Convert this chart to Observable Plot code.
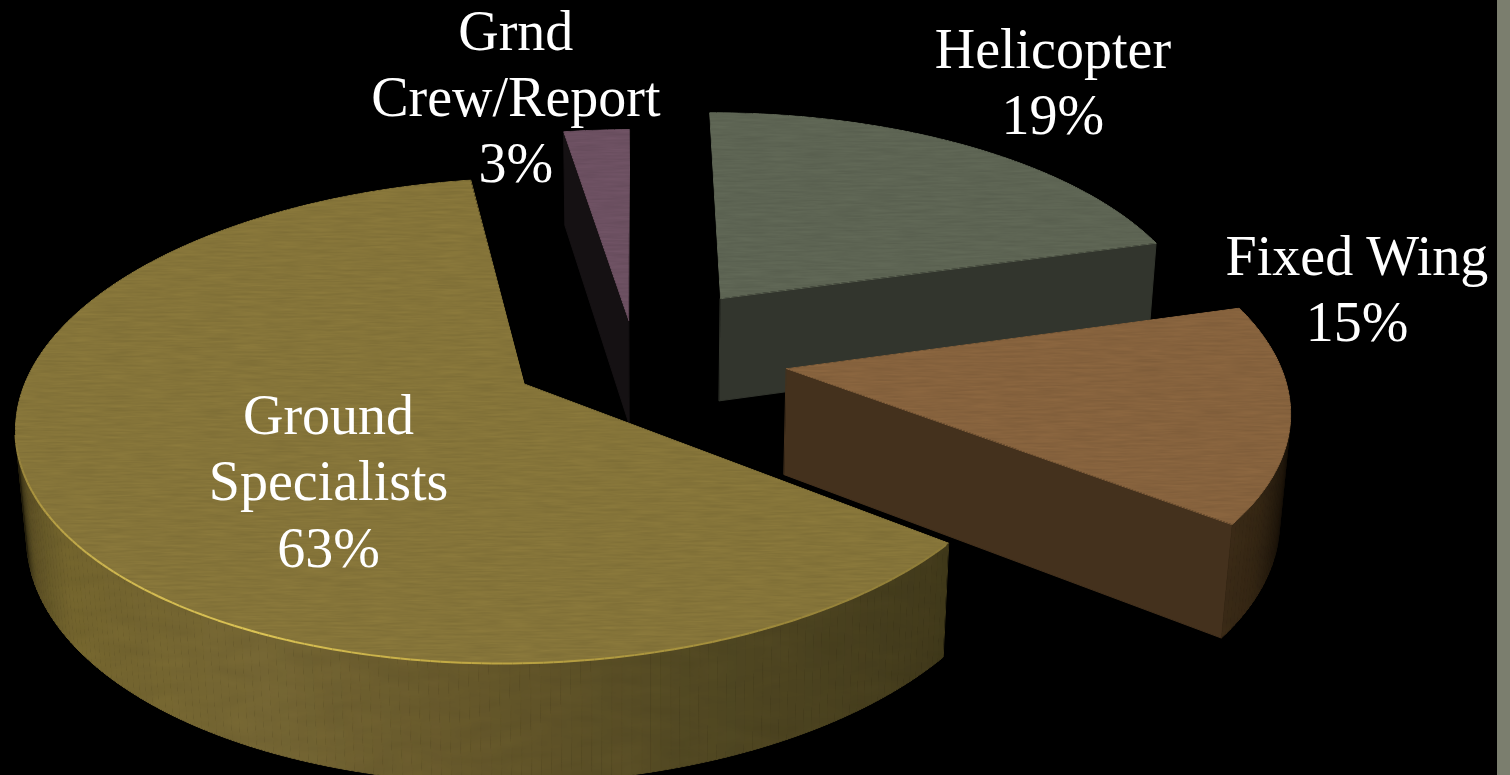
<!DOCTYPE html>
<html>
<head>
<meta charset="utf-8">
<script src="https://cdn.jsdelivr.net/npm/d3@7"></script>
<script src="https://cdn.jsdelivr.net/npm/@observablehq/plot@0.6"></script>
<style>
  html, body { margin: 0; padding: 0; background: #000; overflow: hidden; }
  #chart { position: relative; width: 1510px; height: 775px; }
  #chart svg { position: absolute; left: 0; top: 0; }
  #edge { position: absolute; left: 1497px; top: 0; width: 13px; height: 775px; background: #7b7e6e; }
</style>
</head>
<body>
<div id="chart"><div id="edge"></div></div>
<script>
// Share of each group, in clockwise order round the pie.
const categories = ["Helicopter", "Fixed Wing", "Ground Specialists", "Grnd Crew/Report"];
const values = [19, 15, 63, 3];
const labelLines = [["Helicopter"], ["Fixed Wing"], ["Ground", "Specialists"], ["Grnd", "Crew/Report"]];

// Surface colours for each slice.
const topColors = ["#5d6453", "#86623d", "#857439", "#6c5061"];
const cutColors = ["#32352d", "#44311d", "#40381a", "#151113"];

// Which radial cut of each slice faces the viewer: 0 is its leading edge, 1 its trailing edge.
const visibleCuts = [[1], [1], [], [0]];

// Outer wall shading: angle in degrees clockwise from the back, then colour.
const wallStops = [
  [[0, "#000"], [360, "#000"]],
  [[0, "#000"], [100, "#060402"], [110, "#1f160b"], [120, "#332513"], [128, "#3a2a16"], [180, "#3a2a16"]],
  [[0, "#000"], [128, "#3f3819"], [131, "#423a1b"], [158, "#4f4621"], [183, "#65572a"], [205, "#746533"], [235, "#73642d"], [248, "#5a4e24"], [258, "#1a1608"], [360, "#000"]],
  [[0, "#000"], [360, "#000"]]
];

// Slice layout on the pie plane, in radii: how far each one is pulled out,
// and where its label block sits.
const offsetX = [0.148, 0.2746, -0.252, -0.0454];
const offsetY = [-0.246, 0.07, 0.135, -0.1435];
const labelX = [0.998, 1.506, -0.607, -0.33];
const labelY = [-1.455, -0.301, 0.514, -1.355];

// Camera for the tilted pie.
const cx = 650, cy = 352;
const spanX = 490, spanY = 228, tilt = 0.148, depth = 107, depthShrink = 0.017;
const facing = [98, 258];

// The oblique camera bends angles on the plane: the turn reached by each
// cumulative share lands on these drawn angles.
const bentAngles = [-0.3, 74.3, 127.5, 350.7, 359.7];

function project(px, py, z = 0) {
  const d = 1 - tilt * py + depthShrink * z;
  return [cx + spanX * px / d, cy + (spanY * py + depth * z) / d];
}
const polar = (i, a) => {
  const r = a * Math.PI / 180;
  return [offsetX[i] + Math.sin(r), offsetY[i] - Math.cos(r)];
};

// Angular extent of every slice, from the values.
const total = d3.sum(values);
const turns = [0, ...d3.cumsum(values)].map(v => v / total * 360);
const bend = d3.scaleLinear(turns, bentAngles);
const slices = values.map((v, i) => ({ i, a0: bend(turns[i]), a1: bend(turns[i + 1]) }));

const arcAngles = (s, step) => {
  const n = Math.max(2, Math.ceil((s.a1 - s.a0) / step));
  return d3.range(n + 1).map(k => s.a0 + (s.a1 - s.a0) * k / n);
};

const toRow = (id, fill) => ([px, py, z = 0]) => {
  const [x, y] = project(px, py, z);
  return { id, fill, x, y };
};

function topRows(s) {
  const pts = [[offsetX[s.i], offsetY[s.i]], ...arcAngles(s, 1).map(a => polar(s.i, a))];
  return pts.map(toRow(`top-${s.i}`, topColors[s.i]));
}

// Only the part of the outer wall that faces the viewer is drawn.
function wallRows(s) {
  const stops = wallStops[s.i];
  const shade = d3.scaleLinear(stops.map(d => d[0]), stops.map(d => d[1])).interpolate(d3.interpolateRgb).clamp(true);
  const angles = arcAngles(s, 1).filter(a => a > facing[0] && a < facing[1]);
  return d3.pairs(angles).flatMap(([a, b], k) => {
    const [ax, ay] = polar(s.i, a), [bx, by] = polar(s.i, b);
    return [[ax, ay, 0], [bx, by, 0], [bx, by, 1], [ax, ay, 1]]
      .map(toRow(`wall-${s.i}-${k}`, shade((a + b) / 2)));
  });
}

function cutRows(s) {
  const ox = offsetX[s.i], oy = offsetY[s.i];
  return visibleCuts[s.i].flatMap(k => {
    const [ex, ey] = polar(s.i, k ? s.a1 : s.a0);
    return [[ox, oy, 0], [ex, ey, 0], [ex, ey, 1], [ox, oy, 1]]
      .map(toRow(`cut-${s.i}-${k}`, cutColors[s.i]));
  });
}

// The bright rolled rim along the near edge of the largest slice.
const rimStops = [[128, "#8d7b39"], [150, "#9a863a"], [185, "#c2aa45"], [205, "#dcc455"], [225, "#cfb750"], [245, "#a8923f"], [258, "#857439"]];
const rimShade = d3.scaleLinear(rimStops.map(d => d[0]), rimStops.map(d => d[1])).interpolate(d3.interpolateRgb).clamp(true);
const rimRows = d3.pairs(d3.range(128, 259, 1)).map(([a, b]) => {
  const [ax, ay] = polar(2, a), [bx, by] = polar(2, b);
  const [x1, y1] = project(ax, ay), [x2, y2] = project(bx, by);
  return { x1, y1, x2, y2, stroke: rimShade((a + b) / 2) };
});

const polygon = (rows, extra = {}) => Plot.line(rows, {
  x: "x", y: "y", z: "id", fill: "fill", stroke: "fill",
  strokeWidth: 1, curve: "linear-closed", ...extra
});

// Surface finish applied to a whole mark group.
const finish = (id) => ({
  render(index, scales, channels, dimensions, context, next) {
    const g = next(index, scales, channels, dimensions, context);
    g.setAttribute("filter", `url(#${id})`);
    return g;
  }
});

const labels = slices.map(s => {
  const [x, y] = project(labelX[s.i], labelY[s.i]);
  return { x, y, text: [...labelLines[s.i], `${values[s.i]}%`].join("\n") };
});

// Back slices first so that nearer ones paint over them.
const paintOrder = [3, 0, 1, 2];

const svg = Plot.plot({
  width: 1510,
  height: 775,
  margin: 0,
  x: { domain: [0, 1510], range: [0, 1510], axis: null },
  y: { domain: [0, 775], range: [0, 775], axis: null },
  color: { type: "identity" },
  style: { background: "transparent" },
  marks: [
    ...paintOrder.flatMap(i => [
      polygon(cutRows(slices[i])),
      polygon(wallRows(slices[i]), finish("mottle")),
      polygon(topRows(slices[i]), finish("grain"))
    ]),
    Plot.link(rimRows, { x1: "x1", y1: "y1", x2: "x2", y2: "y2", stroke: "stroke", strokeWidth: 2 }),
    Plot.text(labels, {
      x: "x", y: "y", text: "text",
      fill: "#fff", fontSize: 56, lineHeight: 1.18,
      fontFamily: "Liberation Serif", textAnchor: "middle", lineAnchor: "middle"
    })
  ]
});

// Noise filters for the painted surfaces: fine brushed grain on the tops,
// a faint broad mottling on the walls.
const defs = d3.select(svg).insert("defs", ":first-child");
function surfaceFilter(id, frequency, k1, k2) {
  const f = defs.append("filter").attr("id", id)
    .attr("filterUnits", "userSpaceOnUse")
    .attr("x", 0).attr("y", 0).attr("width", 1510).attr("height", 775)
    .attr("color-interpolation-filters", "sRGB");
  f.append("feTurbulence").attr("type", "fractalNoise")
    .attr("baseFrequency", frequency).attr("numOctaves", 3).attr("seed", 4).attr("result", "noise");
  f.append("feColorMatrix").attr("in", "noise").attr("type", "matrix")
    .attr("values", "1 0 0 0 0  1 0 0 0 0  1 0 0 0 0  0 0 0 0 1").attr("result", "mono");
  f.append("feComposite").attr("in", "SourceGraphic").attr("in2", "mono")
    .attr("operator", "arithmetic").attr("k1", k1).attr("k2", k2).attr("k3", 0).attr("k4", 0).attr("result", "lit");
  f.append("feComposite").attr("in", "lit").attr("in2", "SourceAlpha").attr("operator", "in");
}
surfaceFilter("grain", "0.03 0.45", 0.14, 0.93);
surfaceFilter("mottle", "0.02 0.06", 0.1, 0.95);

document.getElementById("chart").appendChild(svg);
</script>
</body>
</html>
